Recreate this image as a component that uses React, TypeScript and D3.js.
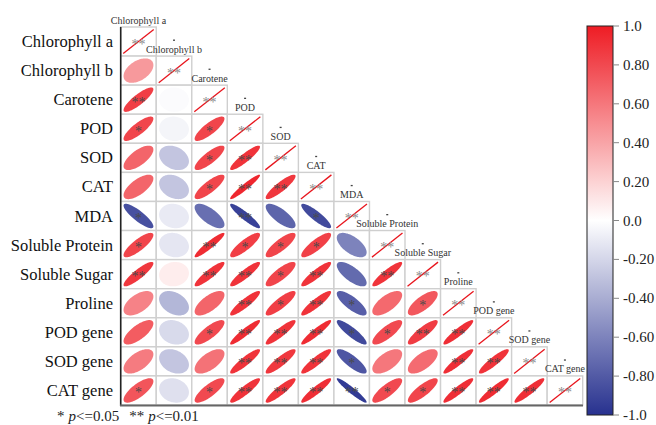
import React from "react";
import * as d3 from "d3";

const labels = [
  "Chlorophyll a", "Chlorophyll b", "Carotene", "POD", "SOD", "CAT", "MDA",
  "Soluble Protein", "Soluble Sugar", "Proline", "POD gene", "SOD gene", "CAT gene",
];

// lower triangle correlations, row i has i values (columns 0..i-1)
const corr: number[][] = [
  [],
  [0.45],
  [0.85, -0.02],
  [0.82, -0.05, 0.82],
  [0.68, -0.28, 0.82, 0.9],
  [0.68, -0.28, 0.82, 0.95, 0.88],
  [-0.85, -0.1, -0.7, -0.92, -0.75, -0.88],
  [0.82, -0.12, 0.93, 0.85, 0.82, 0.84, -0.6],
  [0.88, 0.08, 0.9, 0.9, 0.82, 0.9, -0.72, 0.9],
  [0.55, -0.35, 0.68, 0.9, 0.85, 0.9, -0.78, 0.66, 0.74],
  [0.72, -0.18, 0.8, 0.93, 0.9, 0.93, -0.88, 0.8, 0.86, 0.92],
  [0.58, -0.28, 0.62, 0.9, 0.88, 0.9, -0.82, 0.6, 0.65, 0.92, 0.9],
  [0.75, -0.15, 0.8, 0.9, 0.9, 0.92, -0.95, 0.8, 0.82, 0.92, 0.93, 0.92],
];

// significance: 0 none, 1 *, 2 **
const sig: number[][] = [
  [],
  [0],
  [2, 0],
  [1, 0, 1],
  [0, 0, 1, 2],
  [0, 0, 1, 2, 2],
  [1, 0, 0, 2, 0, 1],
  [1, 0, 2, 1, 1, 1, 0],
  [2, 0, 2, 2, 1, 2, 0, 2],
  [0, 0, 0, 2, 1, 2, 1, 0, 1],
  [0, 0, 1, 2, 2, 2, 1, 1, 2, 2],
  [0, 0, 0, 2, 2, 2, 1, 0, 0, 2, 2],
  [1, 0, 1, 2, 2, 2, 2, 1, 1, 2, 2, 2],
];

const legendTicks = [1.0, 0.8, 0.6, 0.4, 0.2, 0.0, -0.2, -0.4, -0.6, -0.8, -1.0];
const legendTickLabels = ["1.0", "0.80", "0.60", "0.40", "0.20", "0.0", "-0.20", "-0.40", "-0.60", "-0.80", "-1.0"];

const FONT = '"Liberation Serif", "DejaVu Serif", "Noto Serif", serif';

export default function App() {
  const idx = labels.map((_, i) => i);
  const x = d3.scaleBand<number>().domain(idx).range([120.7, 582.7]).paddingInner(0);
  const y = d3.scaleBand<number>().domain(idx).range([27, 405]).paddingInner(0);
  const cw = x.bandwidth();
  const ch = y.bandwidth();
  const color = d3
    .scaleLinear<string>()
    .domain([-1, 0, 1])
    .range(["#27318f", "#ffffff", "#ee1c24"])
    .interpolate(d3.interpolateRgb);
  const cy = d3.scaleLinear().domain([-1, 1]).range([415, 26]);

  const ellipsePath = (r: number) => {
    const dd = Math.acos(Math.max(-1, Math.min(1, r)));
    const sx = cw * 0.42;
    const sy = ch * 0.42;
    const pts: [number, number][] = d3.range(0, 101).map((k) => {
      const t = (k / 100) * 2 * Math.PI;
      return [Math.cos(t + dd / 2) * sx, -Math.cos(t - dd / 2) * sy];
    });
    return d3.line().curve(d3.curveLinearClosed)(pts) || "";
  };

  const stars = (s: number) => (s === 2 ? "**" : s === 1 ? "*" : "");
  const tstyle = { fontFamily: FONT };

  const cells: React.ReactNode[] = [];
  labels.forEach((_, i) => {
    corr[i].forEach((r, j) => {
      const x0 = x(j)!;
      const y0 = y(i)!;
      cells.push(
        <g key={`c${i}-${j}`}>
          <rect x={x0} y={y0} width={cw} height={ch} fill="#fff" stroke="#cfcfcf" strokeWidth={1.4} />
          <path d={ellipsePath(r)} transform={`translate(${x0 + cw / 2},${y0 + ch / 2})`} fill={color(r)} />
          {sig[i][j] > 0 && (
            <text x={x0 + cw / 2} y={y0 + ch / 2 + 7} textAnchor="middle" fontSize={14} fill="#4a4a4a" style={tstyle}>
              {stars(sig[i][j])}
            </text>
          )}
        </g>
      );
    });
    // diagonal cell
    const x0 = x(i)!;
    const y0 = y(i)!;
    cells.push(
      <g key={`d${i}`}>
        <rect x={x0} y={y0} width={cw} height={ch} fill="#fff" stroke="#cfcfcf" strokeWidth={1.4} />
        <line x1={x0 + 2.5} y1={y0 + ch - 2.5} x2={x0 + cw - 2.5} y2={y0 + 2.5} stroke="#e8141c" strokeWidth={1.3} />
        <text x={x0 + cw / 2} y={y0 + ch / 2 + 7} textAnchor="middle" fontSize={14} fill="#8a8a8a" style={tstyle}>
          **
        </text>
        <text x={x0 + cw / 2} y={y0 - 3.5} textAnchor="middle" fontSize={10} fill="#333" style={tstyle}>
          {labels[i]}
        </text>
        {i < labels.length - 1 && (
          <rect x={x(i + 1)! + cw / 2 - 1} y={y0 + ch / 2 - 2} width={2} height={1.3} fill="#444" />
        )}
      </g>
    );
  });

  return (
    <svg width={656} height={425} style={{ position: "absolute", left: 0, top: 0, fontFamily: FONT }}>
      <defs>
        <linearGradient id="cbar" x1="0" y1="1" x2="0" y2="0">
          {d3.range(0, 21).map((k) => {
            const v = -1 + k * 0.1;
            return <stop key={k} offset={`${(k / 20) * 100}%`} stopColor={color(v)} />;
          })}
        </linearGradient>
      </defs>
      <rect width={656} height={425} fill="#fff" />
      {labels.map((l, i) => (
        <text key={l} x={113} y={y(i)! + ch / 2 + 5.5} textAnchor="end" fontSize={16.5} fill="#111" style={tstyle}>
          {l}
        </text>
      ))}
      {cells}
      <line x1={120.7} y1={27} x2={120.7} y2={406} stroke="#222" strokeWidth={1.6} />
      <line x1={120} y1={405.5} x2={583} y2={405.5} stroke="#666" strokeWidth={2} />
      {/* colorbar */}
      <rect x={587} y={cy(1)} width={26} height={cy(-1) - cy(1)} fill="url(#cbar)" stroke="#222" strokeWidth={1} />
      {legendTicks.map((t, k) => (
        <g key={k}>
          <line x1={613} x2={619} y1={cy(t)} y2={cy(t)} stroke="#888" strokeWidth={1} />
          <text x={623} y={cy(t) + 5} fontSize={15} fill="#222" style={tstyle}>
            {legendTickLabels[k]}
          </text>
        </g>
      ))}
      <text x={57} y={421} fontSize={15} fill="#222" style={tstyle}>
        <tspan>*</tspan>
        <tspan dx={4} fontStyle="italic">p</tspan>
        <tspan>{"<=0.05"}</tspan>
        <tspan dx={10}>**</tspan>
        <tspan dx={4} fontStyle="italic">p</tspan>
        <tspan>{"<=0.01"}</tspan>
      </text>
    </svg>
  );
}
